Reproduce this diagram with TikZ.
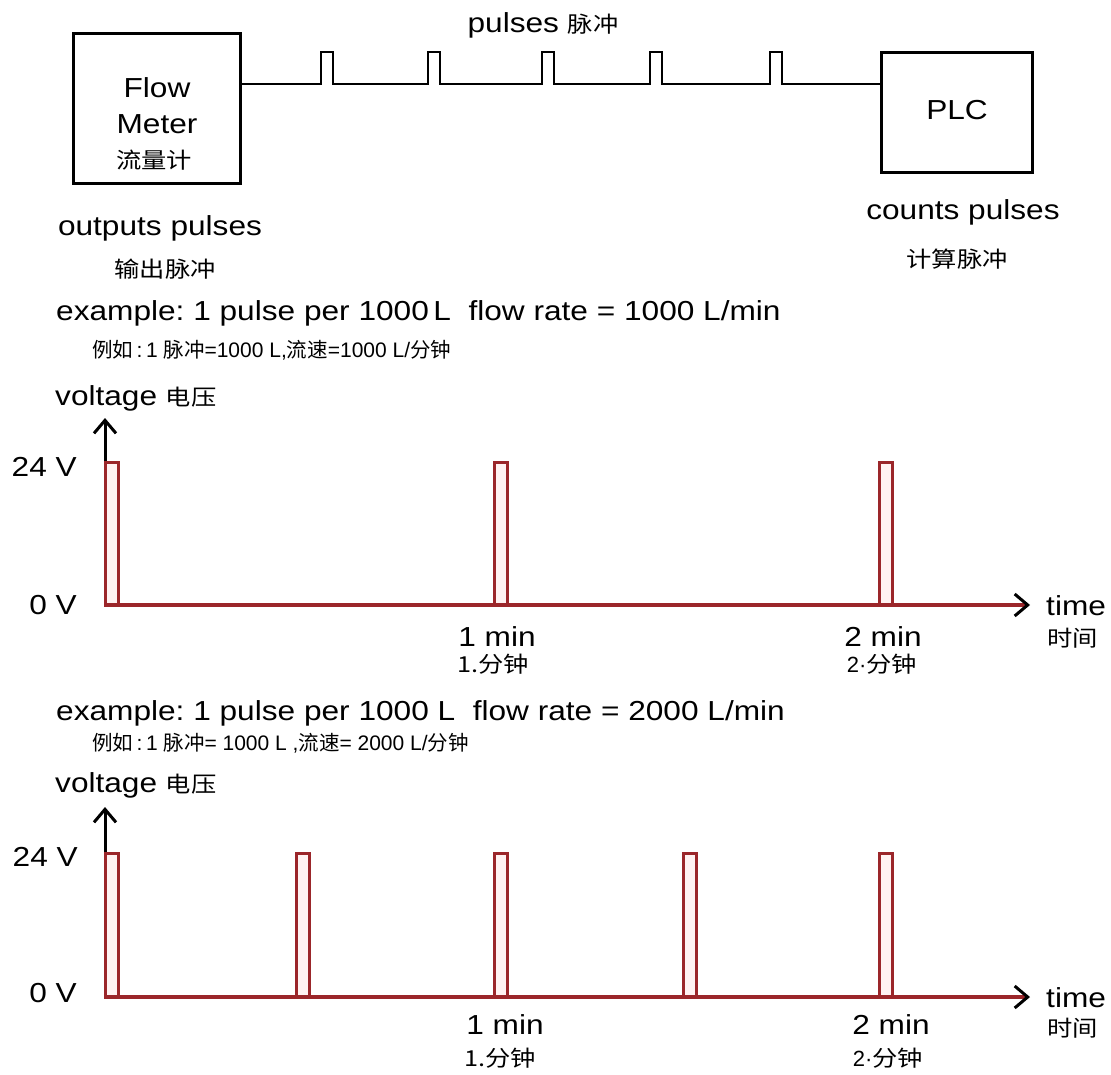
\documentclass[tikz,border=0pt]{standalone}
\usepackage{fontspec}
\setmainfont[FakeStretch=1.15]{Liberation Sans}
\newfontfamily\cjk[FakeStretch=1.15]{Noto Sans CJK SC}
\newfontfamily\plain{Liberation Sans}
\newfontfamily\cjkn{Noto Sans CJK SC}
\usepackage{tikz}
\usetikzlibrary{arrows.meta, positioning}
\definecolor{pulsered}{RGB}{155,38,42}
\newcommand\zh[1]{{\cjk\fontsize{22}{24}\selectfont #1}}
\newcommand\zhs[1]{{\cjkn\fontsize{20.5}{22}\selectfont #1}}

\begin{document}
\begin{tikzpicture}[x=1pt, y=-1pt,
    box/.style={draw, line width=3},
    txt/.style={inner sep=0, font=\fontsize{27.5}{30}\selectfont},
    zhtxt/.style={inner sep=0, font=\cjk\fontsize{22}{24}\selectfont},
    zhline/.style={inner sep=0, anchor=west, font=\plain\fontsize{21}{24}\selectfont},
    wire/.style={line width=2.5, line join=miter},
    axis/.style={line width=3, -{Straight Barb[length=13, width=22, line width=3]}},
    baseline/.style={draw=pulsered, line width=3.5, -{Straight Barb[length=13, width=22, line width=3, color=black]}},
    pulse/.style={draw=pulsered, line width=3, fill=red!5}]
        \useasboundingbox (0,0) rectangle (1111,1074);

        % Flow meter -> PLC
        \node[box, minimum width=167, minimum height=150] (fm) at (156.5,108) {};
        \node[box, minimum width=151, minimum height=120] (plc) at (956.5,112) {};
        \node[txt] (fmA) at (157,88) {Flow};
        \node[txt] (fmB) at (157,124) {Meter};
        \node[zhtxt] (fmC) at (154,160) {流量计};
        \node[txt] (plcA) at (957,110) {PLC};
        \coordinate (sig) at (0,84);
        \draw[wire] (fm.east |- sig)
          \foreach \x in {321,428,542,650,770} { -- (\x,84) -- (\x,52) -- (\x+12,52) -- (\x+12,84) }
          -- (plc.west |- sig);
        \node[txt] (puls) at (543,25) {pulses \zh{脉冲}};
        \node[txt] (outp) at (160,228) {outputs pulses};
        \node[zhtxt] (outz) at (165,269) {输出脉冲};
        \node[txt] (cnt) at (963,212) {counts pulses};
        \node[zhtxt] (cntz) at (957,259) {计算脉冲};

        % example 1: 1000 L/min
        \node[txt, anchor=west] (ex1) at (56,313) {example:~1 pulse per 1000\,L\ \ flow rate = 1000 L/min};
        \node[zhline] (ex1z) at (92,350) {\zhs{例如}\,:\,1 \zhs{脉冲}=1000 L,\zhs{流速}=1000 L/\zhs{分钟}};
        \node[txt, anchor=west] (volt1) at (55,398) {voltage \zh{电压}};
        \coordinate (o1) at (105,605);
        \coordinate (ytop1) at (105,418);
        \coordinate (xend1) at (1030,605);
        \draw[axis] (o1) -- (ytop1);
        \foreach \x in {105,494,879}
          \draw[pulse] (\x,605) rectangle (\x+13,462);
        \draw[baseline] (o1) -- (xend1);
        \node[txt, anchor=east] (hi1) at (77,467) {24 V};
        \node[txt, anchor=east] (lo1) at (77,605) {0 V};
        \node[txt] (m1a) at (497,637) {1 min};
        \node[zhtxt] (m1b) at (493,664) {1.分钟};
        \node[txt] (m2a) at (883,637) {2 min};
        \node[zhtxt] (m2b) at (882,664) {{\fontspec{Liberation Sans}2·}分钟};
        \node[txt, anchor=west] (t1) at (1046,606) {time};
        \node[zhtxt, anchor=west] (t1z) at (1047,638) {时间};

        % example 2: 2000 L/min
        \node[txt, anchor=west] (ex2) at (56,713) {example:~1 pulse per 1000 L\ \ flow rate = 2000 L/min};
        \node[zhline] (ex2z) at (92,743) {\zhs{例如}\,:\,1 \zhs{脉冲}= 1000 L ,\zhs{流速}= 2000 L/\zhs{分钟}};
        \node[txt, anchor=west] (volt2) at (55,785) {voltage \zh{电压}};
        \coordinate (o2) at (105,997);
        \coordinate (ytop2) at (105,807);
        \coordinate (xend2) at (1030,997);
        \draw[axis] (o2) -- (ytop2);
        \foreach \x in {105,296,494,683,879}
          \draw[pulse] (\x,997) rectangle (\x+13,853);
        \draw[baseline] (o2) -- (xend2);
        \node[txt, anchor=east] (hi2) at (78,857) {24 V};
        \node[txt, anchor=east] (lo2) at (77,993) {0 V};
        \node[txt] (n1a) at (505,1025) {1 min};
        \node[zhtxt] (n1b) at (500,1058) {1.分钟};
        \node[txt] (n2a) at (891,1025) {2 min};
        \node[zhtxt] (n2b) at (888,1058) {{\fontspec{Liberation Sans}2·}分钟};
        \node[txt, anchor=west] (t2) at (1046,998) {time};
        \node[zhtxt, anchor=west] (t2z) at (1047,1028) {时间};
      \end{tikzpicture}
\end{document}
